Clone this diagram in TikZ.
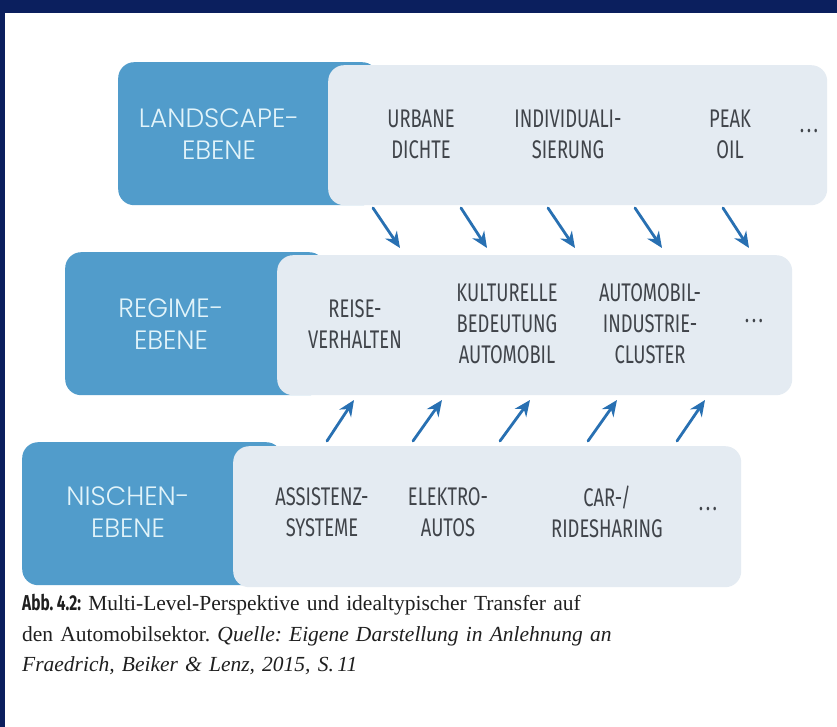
\documentclass[tikz,border=0pt]{standalone}
\usepackage{fontspec}
\setmainfont{Liberation Serif}
\newfontfamily\lvlfont{Poppins}[UprightFont={* Light}]
\newfontfamily\itemfont[FakeStretch=0.72]{Fira Sans}
\newfontfamily\abbfont[FakeStretch=0.72]{Fira Sans}
\usetikzlibrary{arrows.meta}

\definecolor{navy}{HTML}{0B1F5E}
\definecolor{levelblue}{HTML}{519CCB}
\definecolor{panelgray}{HTML}{E4EBF2}
\definecolor{itemgray}{HTML}{40444A}
\definecolor{labelcyan}{HTML}{E2F4FA}
\definecolor{arrowblue}{HTML}{2870B2}

\newcommand\moredots{.\kern2.5pt.\kern2.5pt.}

\begin{document}
\frenchspacing
\begin{tikzpicture}[x=1pt,y=-1pt,
  levelbox/.style={fill=levelblue, rounded corners=16pt, anchor=north west,
    inner sep=0pt, minimum height=143pt},
  panel/.style={fill=panelgray, rounded corners=16pt, anchor=north west,
    inner sep=0pt},
  levellabel/.style={text=labelcyan, font=\lvlfont\fontsize{26.5}{32}\selectfont,
    align=center, inner sep=0pt},
  item/.style={text=itemgray, font=\itemfont\fontsize{25.5}{31}\selectfont,
    align=center, inner sep=0pt},
  flow/.style={draw=arrowblue, line width=2.8pt, line cap=round,
    -{Stealth[length=16pt,width=14pt]}},
]
% page frame
\path[use as bounding box] (0,0) rectangle (837,727);
\fill[white] (0,0) rectangle (837,727);
\fill[navy] (0,0) rectangle (837,13);
\fill[navy] (0,0) rectangle (5,727);

% landscape level
\node[levelbox, minimum width=260pt] (landL) at (118,62) {};
\node[panel, minimum width=499pt, minimum height=140pt] (landP) at (328,65) {};
\node[levellabel] (landT) at (219,134) {LANDSCAPE-\\EBENE};
\node[item] (urban) at (421,134) {URBANE\\DICHTE};
\node[item] (indiv) at (568,134) {INDIVIDUALI-\\SIERUNG};
\node[item] (peak)  at (730,134) {PEAK\\OIL};
\node[item] (landD) at (809,131) {\moredots};

% regime level
\node[levelbox, minimum width=260pt] (regL) at (65,252) {};
\node[panel, minimum width=515pt, minimum height=140pt] (regP) at (277,255) {};
\node[levellabel] (regT) at (171,324) {REGIME-\\EBENE};
\node[item] (reise) at (355,324) {REISE-\\VERHALTEN};
\node[item] (kult)  at (507,324) {KULTURELLE\\BEDEUTUNG\\AUTOMOBIL};
\node[item] (indu)  at (650,324) {AUTOMOBIL-\\INDUSTRIE-\\CLUSTER};
\node[item] (regD)  at (754,321) {\moredots};

% niche level
\node[levelbox, minimum width=260pt] (nisL) at (22,442) {};
\node[panel, minimum width=508pt, minimum height=141pt] (nisP) at (233,446) {};
\node[levellabel] (nisT) at (128,512) {NISCHEN-\\EBENE};
\node[item] (assist) at (322,512) {ASSISTENZ-\\SYSTEME};
\node[item] (elektro) at (448,512) {ELEKTRO-\\AUTOS};
\node[item] (car) at (607,512) {CAR-/\\RIDESHARING};
\node[item] (nisD) at (708,509) {\moredots};

% pressure from the landscape onto the regime
\coordinate (d1a) at (373,208); \coordinate (d1b) at (400,248);
\coordinate (d2a) at (461,208); \coordinate (d2b) at (487,248);
\coordinate (d3a) at (548,208); \coordinate (d3b) at (575,248);
\coordinate (d4a) at (635,208); \coordinate (d4b) at (662,248);
\coordinate (d5a) at (723,208); \coordinate (d5b) at (749,248);
\foreach \i in {1,...,5} \draw[flow] (d\i a) -- (d\i b);

% niches pushing into the regime
\coordinate (u1a) at (327,441); \coordinate (u1b) at (354,400);
\coordinate (u2a) at (413,441); \coordinate (u2b) at (442,400);
\coordinate (u3a) at (500,441); \coordinate (u3b) at (530,400);
\coordinate (u4a) at (588,441); \coordinate (u4b) at (617,400);
\coordinate (u5a) at (677,441); \coordinate (u5b) at (705,400);
\foreach \i in {1,...,5} \draw[flow] (u\i a) -- (u\i b);

% caption
\node[anchor=north west, text width=810pt, align=left, inner sep=0pt,
  font=\fontsize{21.5}{30.5}\selectfont, text=black!88] (cap) at (22,594)
  {{\abbfont\bfseries Abb.\,4.2:} Multi-Level-Perspektive und idealtypischer Transfer auf\\
   den Automobilsektor. \textit{Quelle: Eigene Darstellung in Anlehnung an}\\
   \textit{Fraedrich, Beiker \& Lenz, 2015, S.\,11}};
\end{tikzpicture}
\end{document}
